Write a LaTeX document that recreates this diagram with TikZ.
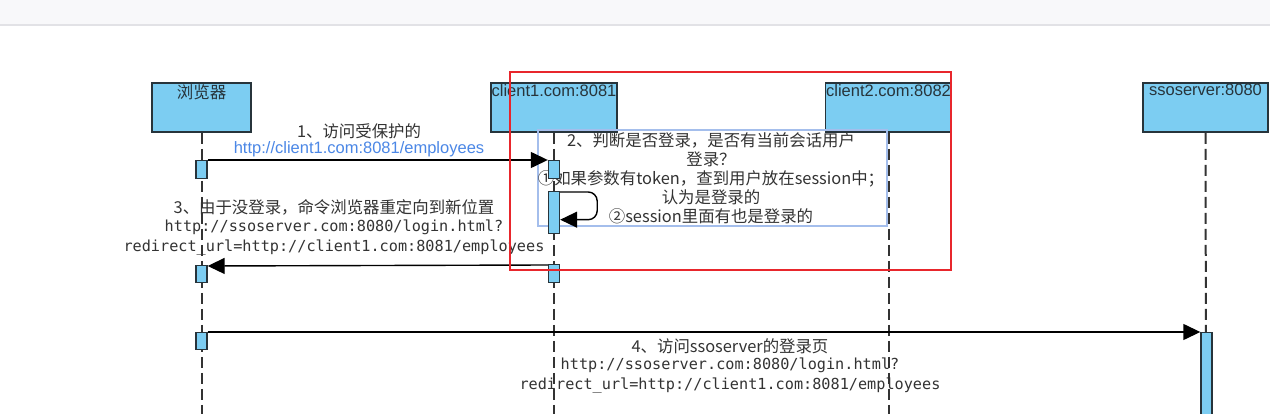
\documentclass[tikz,border=0pt]{standalone}
\usepackage{fontspec}
\setmainfont{Liberation Sans}
\newfontfamily\cjk{Noto Sans CJK SC}
\newfontfamily\monof{DejaVu Sans Mono}
\usepackage{tikz}
\usetikzlibrary{arrows.meta, positioning}

\definecolor{headfill}{HTML}{7CCDF2}
\definecolor{headline}{HTML}{27343B}
\definecolor{lifegray}{HTML}{333333}
\definecolor{urlblue}{HTML}{4B87E6}
\definecolor{txtgray}{HTML}{333333}
\definecolor{selblue}{HTML}{A4BEEC}
\definecolor{topbar}{HTML}{F8F8FA}
\definecolor{topline}{HTML}{E2E2E6}
\definecolor{redbox}{HTML}{E8262C}

\begin{document}
\begin{tikzpicture}[x=1pt, y=-1pt,
    head/.style={rectangle, draw=headline, fill=headfill, line width=1.6pt, minimum width=126pt, minimum height=49pt, inner sep=0pt},
    headtxt/.style={anchor=north, inner sep=2pt, text=headline, font=\fontsize{16.5}{18}\selectfont},
    act/.style={rectangle, draw=headline, fill=headfill, line width=1.4pt, minimum width=11pt, anchor=north, inner sep=0pt},
    life/.style={draw=lifegray, line width=2pt, dash pattern=on 11pt off 5pt},
    msg/.style={draw=black, line width=1.4pt, -{Triangle[length=17pt, width=16pt]}},
    zh/.style={text=txtgray, font=\cjk\fontsize{16.4}{19}\selectfont},
    mono/.style={text=txtgray, font=\monof\fontsize{15.2}{19}\selectfont},
    url/.style={text=urlblue, font=\fontsize{16.5}{19}\selectfont}
]
\useasboundingbox (0,0) rectangle (1270,414);
\fill[white] (0,0) rectangle (1270,414);
\fill[topbar] (0,0) rectangle (1270,24);
\draw[topline, line width=2pt] (0,25) -- (1270,25);

\node[head, minimum width=99pt, label={[headtxt]north:{\cjk 浏览器}}] (browser) at (201.5,107.5) {};
\node[head, label={[headtxt]north:client1.com:8081}] (client1) at (554,107.5) {};
\node[head, label={[headtxt]north:client2.com:8082}] (client2) at (888.5,107.5) {};
\node[head, minimum width=125pt, label={[headtxt]north:ssoserver:8080}] (sso) at (1205.5,107.5) {};

\coordinate (browserEnd) at (201.5,414);
\coordinate (client1End) at (554,414);
\coordinate (client2End) at (888.5,414);
\coordinate (ssoEnd) at (1206,414);
\draw[life] (browser) -- (browserEnd);
\draw[life] (client1) -- (client1End);
\draw[life] (client2) -- (client2End);
\draw[life] (sso) -- (ssoEnd);

\node[draw=selblue, line width=1.8pt, minimum width=349pt, minimum height=96pt] (selbox) at (712.5,178) {};
\node[zh, align=center] (note) at (711,178) {2、判断是否登录，是否有当前会话用户\\登录？\\①如果参数有token，查到用户放在session中；\\认为是登录的\\②session里面有也是登录的};

\node[act, minimum height=18pt] (b1) at (201.5,160) {};
\node[act, minimum height=17pt] (b2) at (201.5,265) {};
\node[act, minimum height=17pt] (b3) at (201.5,332) {};
\node[act, minimum height=18pt] (c1) at (554,160) {};
\node[act, minimum height=42pt] (c2) at (554,191) {};
\node[act, minimum height=18pt] (c3) at (554,264) {};
\node[act, minimum height=95pt] (s1) at (1206.5,332) {};

\draw[msg] (b1.north east) -- (c1.north west);
\node[zh] (m1a) at (359,131) {1、访问受保护的};
\node[url] (m1b) at (359,149) {http://client1.com:8081/employees};

\draw[msg, rounded corners=9pt] ([yshift=-1pt]c2.north east) -- ++(37,0) |- ([yshift=-7pt]c2.east);

\draw[msg] ([yshift=-1pt]c3.north west) -- ([yshift=-1pt]b2.north east);
\node[zh] (m3a) at (334,207) {3、由于没登录，命令浏览器重定向到新位置};
\node[mono] (m3b) at (334,227) {http://ssoserver.com:8080/login.html?};
\node[mono] (m3c) at (334,247) {redirect\_url=http://client1.com:8081/employees};

\draw[msg] (b3.north east) -- (s1.north west);
\node[zh] (m4a) at (730,346) {4、访问ssoserver的登录页};
\node[mono] (m4b) at (730,365) {http://ssoserver.com:8080/login.html?};
\node[mono] (m4c) at (730,385) {redirect\_url=http://client1.com:8081/employees};

\draw[redbox, line width=1.1pt] (510,72) rectangle (951,270);
\end{tikzpicture}
\end{document}
